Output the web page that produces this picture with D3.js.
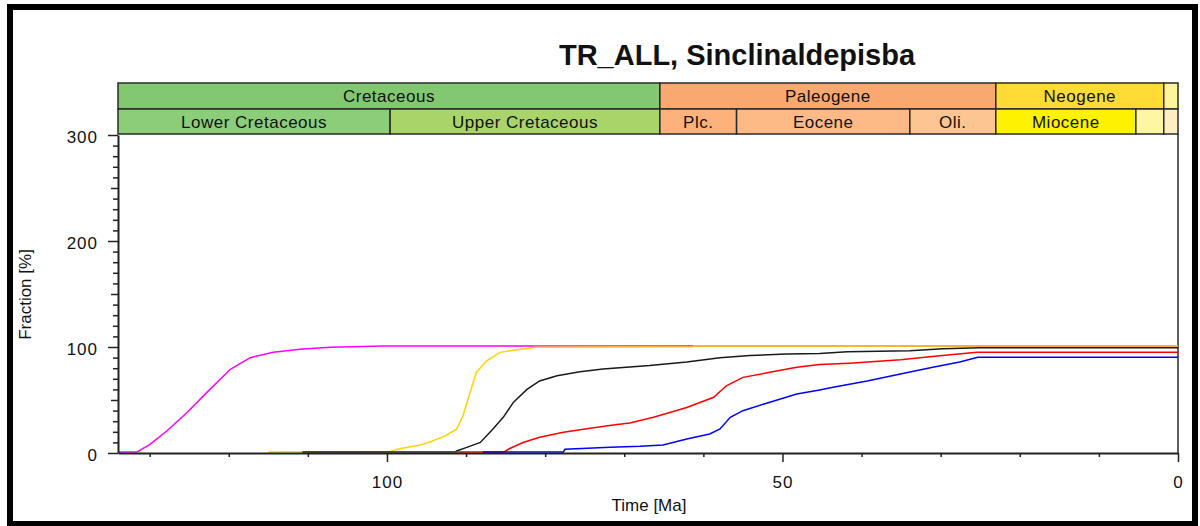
<!DOCTYPE html>
<html>
<head>
<meta charset="utf-8">
<script src="https://cdn.jsdelivr.net/npm/d3@7"></script>
<style>
  html, body { margin: 0; padding: 0; background: #fff; }
  svg { display: block; }
  text { font-family: "Liberation Sans", Arial, sans-serif; fill: #111; }
</style>
</head>
<body>
<svg id="chart" width="1200" height="526"></svg>
<script>
// ---------- DATA ----------
const chartTitle = "TR_ALL, Sinclinaldepisba";
const xLabel = "Time [Ma]";
const yLabel = "Fraction [%]";

const xDomain = [134, 0];
const yDomain = [0, 300];
const xMajorTicks = [100, 50, 0];
const xMinorTicks = [130, 120, 110, 100, 90, 80, 70, 60, 50, 40, 30, 20, 10, 0];
const yMajorTicks = [0, 100, 200, 300];

// Stratigraphic periods (top row) [name, start Ma, end Ma, colour]
const periods = [
  ["Cretaceous", 134, 65.5, "#82c870"],
  ["Paleogene", 65.5, 23.03, "#f9a870"],
  ["Neogene", 23.03, 1.8, "#ffdb35"],
  ["", 1.8, 0, "#fff49c"]
];
// Epochs (bottom row)
const epochs = [
  ["Lower Cretaceous", 134, 99.6, "#8ccd7a"],
  ["Upper Cretaceous", 99.6, 65.5, "#a8d46a"],
  ["Plc.", 65.5, 55.8, "#fdb27c"],
  ["Eocene", 55.8, 33.9, "#fdba86"],
  ["Oli.", 33.9, 23.03, "#fdc591"],
  ["Miocene", 23.03, 5.33, "#fff200"],
  ["", 5.33, 1.8, "#fff6a4"],
  ["", 1.8, 0, "#ffeec2"]
];

// Series: [time Ma, fraction %]
const seriesMagenta = [[134,0],[131.6,0],[130,7],[127.8,20],[125.3,37],[122.8,56],[119.8,78],[117.3,89],[114.4,94],[111,97],[107.2,98.8],[100.5,100],[0,100]];
const seriesYellow = [[115,0],[99.6,0.5],[98.4,3],[95.8,6.5],[94.6,9.5],[92.7,15],[91.2,21.5],[90.4,34],[89.5,56],[88.7,75],[87.4,86],[85.7,94],[83.6,96.5],[81.1,98.8],[61.3,99.3],[61.2,100],[0,100]];
const seriesBlack = [[110.7,0],[91.4,0],[91.2,1],[89.9,4.4],[88.2,9],[86.6,21.7],[85.3,32.7],[84.0,47],[82.3,59],[80.7,67],[78.5,72],[75.6,75.7],[72.7,78.3],[69.3,80.3],[66.8,81.5],[62.1,85],[57.9,89],[54.1,91],[49.5,92.5],[45.3,93],[41.8,94.5],[33.9,95.6],[29.7,97.5],[25,98.3],[0,98.3]];
const seriesRed = [[91.4,0],[85.2,0],[84.6,2.8],[82.8,9],[80.7,13.9],[77.7,18.6],[74.3,22.3],[71.4,25.5],[69.3,27.4],[66.3,32.7],[62.1,42],[58.7,51.6],[57.1,62.5],[55,70.4],[51.6,75.2],[48.2,79.9],[45.3,82.5],[41.5,83.8],[35.1,87],[30.1,90.9],[25.4,94],[0,94]];
const seriesBlue = [[87.9,0],[77.7,0],[77.5,2.5],[71.8,4.5],[68,5.4],[65.1,6.6],[62.1,12.3],[59.2,17],[57.9,21.7],[56.6,32.7],[55,39],[51.6,47],[48.2,54.7],[45.3,58.5],[43.6,61],[39.3,67],[35.1,73.6],[31,80],[27.6,85],[25.3,89.3],[0,89.3]];

const seriesList = [
  [seriesMagenta, "#ff00ff"],
  [seriesYellow, "#ffd200"],
  [seriesBlack, "#1a1a1a"],
  [seriesRed, "#ff0000"],
  [seriesBlue, "#0000ff"]
];

// ---------- LAYOUT ----------
const plotL = 118, plotR = 1178, plotT = 135, plotB = 453;
const rowTop1 = 83, rowTop2 = 109, rowBot = 134;

const svg = d3.select("#chart");
const x = d3.scaleLinear().domain(xDomain).range([plotL, plotR]);
const y = d3.scaleLinear().domain(yDomain).range([plotB, plotT]);

// outer frame
svg.append("rect").attr("x", 10).attr("y", 7).attr("width", 1185).attr("height", 517)
  .attr("fill", "#fff").attr("stroke", "#000").attr("stroke-width", 6);

// title
svg.append("text").attr("x", 737).attr("y", 65).attr("text-anchor", "middle")
  .style("font-size", "29px").style("font-weight", "bold").text(chartTitle);

// strat rows
function drawRow(data, y0, y1) {
  const g = svg.append("g");
  g.selectAll("rect").data(data).join("rect")
    .attr("x", d => x(d[1])).attr("y", y0)
    .attr("width", d => x(d[2]) - x(d[1])).attr("height", y1 - y0)
    .attr("fill", d => d[3]).attr("stroke", "#2a2a2a").attr("stroke-width", 1.5);
  g.selectAll("text").data(data).join("text")
    .attr("x", d => (x(d[1]) + x(d[2])) / 2).attr("y", (y0 + y1) / 2 + 6)
    .attr("text-anchor", "middle").style("font-size", "17px").style("letter-spacing", "0.5px")
    .text(d => d[0]);
}
drawRow(periods, rowTop1, rowTop2);
drawRow(epochs, rowTop2, rowBot);

// right border of plot
svg.append("line").attr("x1", plotR).attr("x2", plotR).attr("y1", rowBot).attr("y2", plotB)
  .attr("stroke", "#2a2a2a").attr("stroke-width", 1.5);

// series
const line = d3.line().x(d => x(d[0])).y(d => y(d[1]) - 1);
svg.append("g").selectAll("path").data(seriesList).join("path")
  .attr("d", d => line(d[0])).attr("fill", "none")
  .attr("stroke", d => d[1]).attr("stroke-width", 1.5);

// x axis
const xAxis = d3.axisBottom(x).tickValues(xMinorTicks).tickSizeOuter(0)
  .tickFormat(d => xMajorTicks.includes(d) ? d : "");
const gx = svg.append("g").attr("transform", `translate(0,${plotB})`).call(xAxis);
gx.select(".domain").attr("stroke", "#222").attr("stroke-width", 2);
gx.selectAll(".tick line").attr("stroke", "#222").attr("stroke-width", 1.5)
  .attr("y2", d => xMajorTicks.includes(d) ? 9 : 4);
gx.selectAll(".tick text").attr("y", 35).attr("dy", 0).attr("fill", "#111")
  .style("font-size", "17px").style("letter-spacing", "1px")
  .style("font-family", "'Liberation Sans', Arial, sans-serif");

// y axis
const yAxis = d3.axisLeft(y).tickValues(d3.range(0, 301, 10)).tickSizeOuter(0)
  .tickFormat(d => yMajorTicks.includes(d) ? d : "");
const gy = svg.append("g").attr("transform", `translate(${plotL},0)`).call(yAxis);
gy.select(".domain").attr("stroke", "#222").attr("stroke-width", 2);
gy.selectAll(".tick line").attr("stroke", "#222").attr("stroke-width", 1.5)
  .attr("x2", d => d % 100 === 0 ? -10 : (d % 50 === 0 ? -7 : -5));
gy.selectAll(".tick text").attr("x", -20).attr("dy", 7).attr("fill", "#111")
  .style("font-size", "17px").style("letter-spacing", "1px")
  .style("font-family", "'Liberation Sans', Arial, sans-serif");

// axis labels
svg.append("text").attr("x", 649).attr("y", 511).attr("text-anchor", "middle")
  .style("font-size", "17px").text(xLabel);
svg.append("text").attr("transform", "translate(31,294.5) rotate(-90)")
  .attr("text-anchor", "middle").style("font-size", "17px").text(yLabel);
</script>
</body>
</html>
